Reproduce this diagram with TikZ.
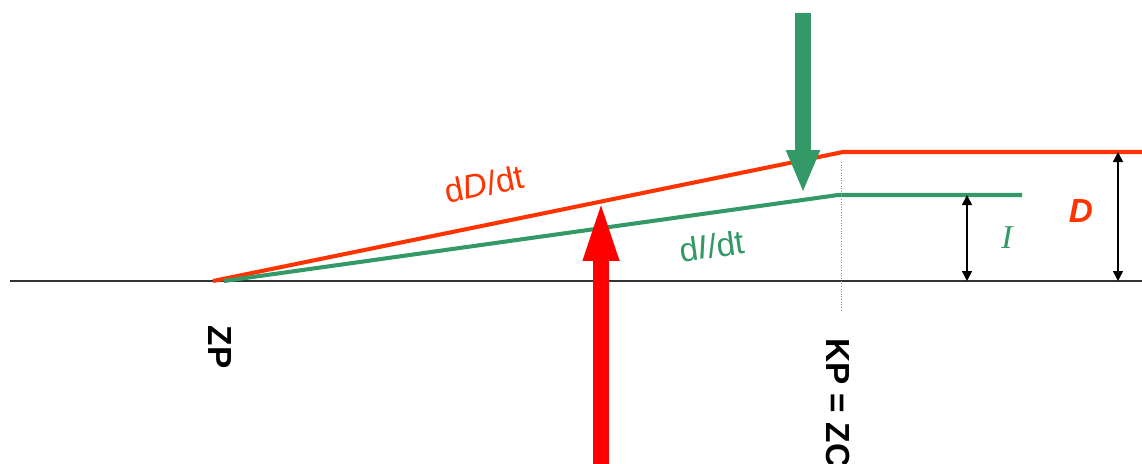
\documentclass[tikz,border=0pt]{standalone}
\usepackage{fontspec}
\setmainfont{Liberation Sans}
\newfontfamily\timesfont{Liberation Serif}
\usetikzlibrary{arrows.meta}
\definecolor{flame}{HTML}{FF3300}
\definecolor{seagreen}{HTML}{339966}
\definecolor{signal}{HTML}{FF0000}

\begin{document}
\begin{tikzpicture}[x=0.02cm, y=-0.02cm]
\clip (0,0) rectangle (1142,463);

% Axis
\coordinate (axl) at (10,281);
\coordinate (axr) at (1142,281);
\draw[line width=0.7pt, black!80] (axl) -- (axr);

% Dose line
\coordinate (zp) at (213,281);
\coordinate (kred) at (843,152);
\coordinate (ered) at (1142,152);
\draw[line width=2.3pt, flame] (zp) -- (kred) -- (ered);

% Intake line
\coordinate (zg) at (224,281);
\coordinate (kgrn) at (838,195);
\coordinate (egrn) at (1022,195);
\draw[line width=2.3pt, seagreen] (zg) -- (kgrn) -- (egrn);

% KP marker
\coordinate (kptop) at (841,162);
\coordinate (kpbot) at (841,310);
\draw[densely dotted, black!45, line width=0.5pt] (kptop) -- (kpbot);

% Big arrows
\coordinate (gstart) at (803,13);
\coordinate (gtip) at (803,193);
\draw[seagreen, line width=0.32cm, -{Triangle[length=0.86cm, width=0.62cm]}] (gstart) -- (gtip);
\coordinate (rstart) at (601,470);
\coordinate (rtip) at (601,196);
\draw[signal, line width=0.32cm, -{Triangle[length=1.3cm, width=0.62cm]}] (rstart) -- (rtip);

% Dimension arrows
\coordinate (itop) at (967,195);
\coordinate (ibot) at (967,281);
\draw[line width=0.8pt, {Triangle[length=0.2cm, width=0.2cm]}-{Triangle[length=0.2cm, width=0.2cm]}] (itop) -- (ibot);
\coordinate (dtop) at (1118,152);
\coordinate (dbot) at (1118,281);
\draw[line width=0.8pt, {Triangle[length=0.2cm, width=0.2cm]}-{Triangle[length=0.2cm, width=0.2cm]}] (dtop) -- (dbot);

% Labels
\node[font=\fontsize{19}{22}\selectfont, text=flame, rotate=11.6] (dDdt) at (484,184) {d\textit{D}/dt};
\node[font=\fontsize{19}{22}\selectfont, text=seagreen, rotate=8] (dIdt) at (712,246) {d\textit{I}/dt};
\node[font=\fontsize{19}{22}\selectfont\timesfont\itshape, text=seagreen] (ilab) at (1007,238) {I};
\node[font=\fontsize{19}{22}\selectfont\bfseries\itshape, text=flame] (dlab) at (1081,211) {D};
\node[font=\fontsize{19}{22}\selectfont\bfseries, rotate=-90] (zplab) at (220,347) {ZP};
\node[font=\fontsize{19}{22}\selectfont\bfseries, rotate=-90, anchor=west, inner sep=0pt] (kplab) at (838,338) {KP = ZC};
\end{tikzpicture}
\end{document}
